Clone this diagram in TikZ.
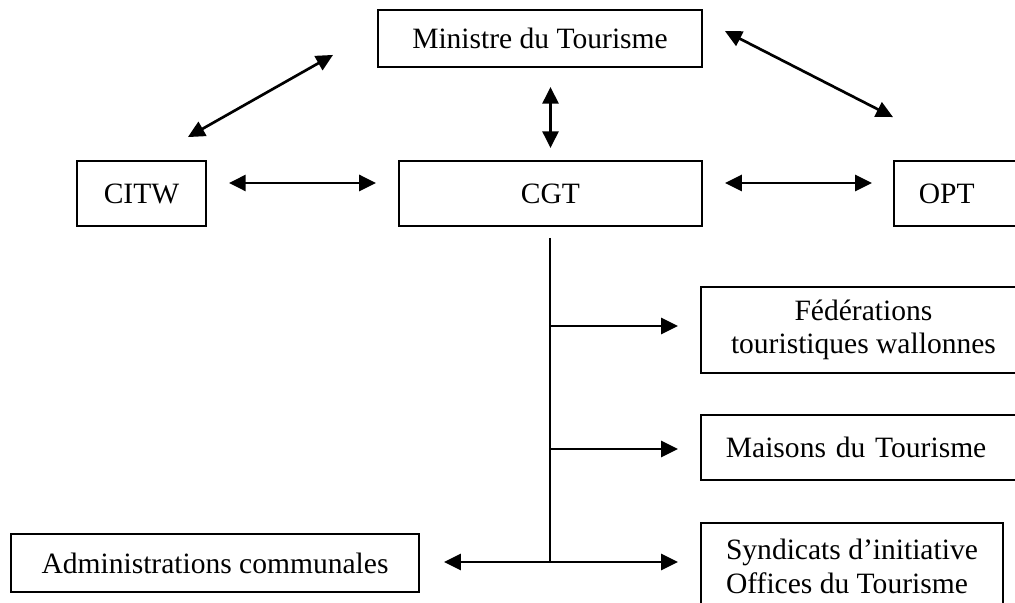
\documentclass[tikz,border=0pt]{standalone}
\usepackage{fontspec}
\setmainfont{Liberation Serif}
\usetikzlibrary{arrows.meta,positioning,calc}

\begin{document}
\begin{tikzpicture}[x=0.025cm,y=-0.025cm,>={Triangle[length=4.2mm,width=4mm]},font=\fontsize{21}{24}\selectfont]
\tikzset{obox/.style={draw,line width=1.3pt,inner sep=0pt,align=center},lbox/.style={draw,line width=1.3pt,inner xsep=6.25mm,inner ysep=0pt,align=left},rel/.style={<->,line width=1.9pt},sub/.style={->,line width=1.9pt}}
\useasboundingbox (0,0) rectangle (1015,603);
\clip (0,0) rectangle (1015,603);
% top level
\node[obox,minimum width=8.1cm,minimum height=1.425cm] (min) at (540,38.5) {Ministre du Tourisme};
\node[obox,minimum width=3.225cm,minimum height=1.625cm] (citw) at (141.5,193.5) {CITW};
\node[obox,minimum width=7.575cm,minimum height=1.625cm] (cgt) at (550.5,193.5) {CGT};
\node[lbox,anchor=west,text width=3cm,minimum height=1.625cm] (opt) at (893,193.5) {OPT};
% under the CGT
\node[obox,anchor=west,minimum width=8.125cm,minimum height=2.15cm] (fed) at (700,330) {Fédérations\\touristiques wallonnes};
\node[lbox,anchor=west,text width=7cm,minimum height=1.625cm] (mai) at (700,447.5) {Maisons du Tourisme};
\node[obox,align=left,anchor=north west,minimum width=7.55cm,inner ysep=4mm] (syn) at (700,522) {Syndicats d’initiative\\Offices du Tourisme};
\node[obox,minimum width=10.2cm,minimum height=1.45cm] (adm) at (215,563) {Administrations communales};
\coordinate (j1) at (550,326);\coordinate (j2) at (550,449);\coordinate (j3) at (550,562);
% links
\draw[rel] ($(citw.north east)+(-19,-23)$) -- ($(min.south west)+(-44,-13)$);
\draw[rel] ($(min.north east)+(22,22)$) -- ($(opt.north west)+(0,-43)$);
\draw[rel,shorten <=4.75mm,shorten >=3mm] (cgt.north |- min.south) -- (cgt.north);
\draw[rel] ($(citw.east)+(22,-10.5)$) -- ($(cgt.west)+(-22,-10.5)$);
\draw[rel] ($(cgt.east)+(22,-10.5)$) -- ($(opt.west)+(-21,-10.5)$);
\draw[line width=1.9pt] ($(j1 |- cgt.south)+(0,11)$) -- (j3);
\draw[sub,shorten >=5.5mm] (j1) -- (j1 -| fed.west);
\draw[sub,shorten >=5.5mm] (j2) -- (j2 -| mai.west);
\draw[rel,shorten <=6mm,shorten >=5.5mm] (j3 -| adm.east) -- (j3 -| syn.west);
\end{tikzpicture}
\end{document}
